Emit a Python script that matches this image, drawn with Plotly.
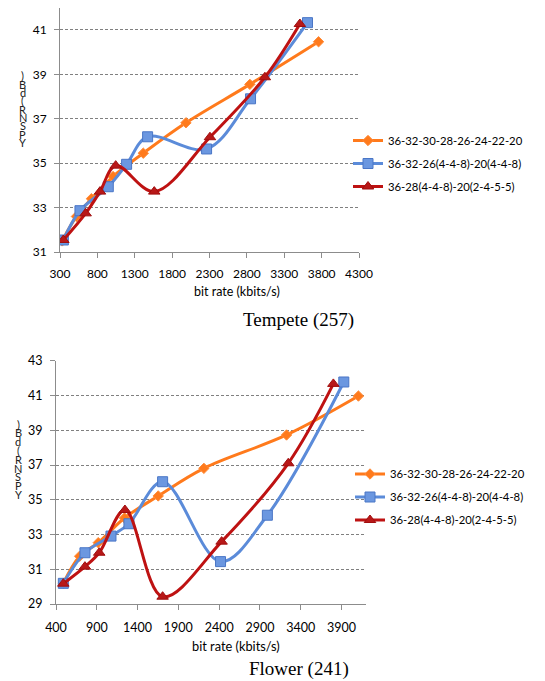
import plotly.graph_objects as go

# page body adds an 8px margin at the top-left; figure fills the rest of the window
OFF = 8
W, H = 545 - OFF, 681 - OFF

# ---------------- data: Tempete (257) ----------------
t_orange_x = [330, 520, 720, 1010, 1414, 1985, 2840, 3759]
t_orange_y = [31.5, 32.6, 33.4, 34.4, 35.45, 36.82, 38.55, 40.47]
t_blue_x = [345, 567, 946, 1191, 1472, 2261, 2849, 3611]
t_blue_y = [31.54, 32.86, 33.94, 34.95, 36.19, 35.64, 37.9, 41.33]
t_red_x = [345, 643, 835, 1045, 1561, 2306, 3041, 3509]
t_red_y = [31.54, 32.74, 33.72, 34.89, 33.72, 36.17, 38.87, 41.27]

# ---------------- data: Flower (241) ----------------
f_orange_x = [490, 690, 918, 1240, 1653, 2213, 3226, 4107]
f_orange_y = [30.2, 31.75, 32.53, 33.95, 35.22, 36.81, 38.73, 40.97]
f_blue_x = [490, 755, 1074, 1294, 1707, 2417, 2991, 3928]
f_blue_y = [30.19, 31.95, 32.91, 33.62, 36.04, 31.44, 34.11, 41.78]
f_red_x = [490, 755, 930, 1245, 1707, 2430, 3247, 3800]
f_red_y = [30.17, 31.15, 31.95, 34.41, 29.42, 32.59, 37.1, 41.67]

series_names = ["36-32-30-28-26-24-22-20",
                "36-32-26(4-4-8)-20(4-4-8)",
                "36-28(4-4-8)-20(2-4-5-5)"]
top_x_ticks = [300, 800, 1300, 1800, 2300, 2800, 3300, 3800, 4300]
bot_x_ticks = [400, 900, 1400, 1900, 2400, 2900, 3400, 3900]
ylabel_chars = [")", "B", "d", "(", "R", "N", "S", "P", "Y"]

ORANGE = "#FF7A1C"
BLUE = "#5B8BD9"
RED = "#BE1212"
FONT = "Lato"

styles = [
    dict(color=ORANGE, symbol="diamond", size=8, lc=ORANGE, mline="#FF8C3A"),
    dict(color="#6B97E0", symbol="square", size=10, lc=BLUE, mline="#4A76C6"),
    dict(color="#B81818", symbol="triangle-up", size=10, lc=RED, mline="#A00E0E"),
]

fig = go.Figure()

def add_series(xs, ys, idx, xa, ya, leg):
    s = styles[idx]
    fig.add_trace(go.Scatter(
        x=xs, y=ys, mode="lines+markers", name=series_names[idx],
        xaxis=xa, yaxis=ya, legend=leg, legendgroup=f"{leg}-{idx}",
        line=dict(color=s["lc"], width=3, shape="spline", smoothing=1.0),
        marker=dict(symbol=s["symbol"], size=s["size"], color=s["color"],
                    line=dict(color=s["mline"], width=1)),
    ))

add_series(t_orange_x, t_orange_y, 0, "x", "y", "legend")
add_series(t_blue_x, t_blue_y, 1, "x", "y", "legend")
add_series(t_red_x, t_red_y, 2, "x", "y", "legend")
add_series(f_orange_x, f_orange_y, 0, "x2", "y2", "legend2")
add_series(f_blue_x, f_blue_y, 1, "x2", "y2", "legend2")
add_series(f_red_x, f_red_y, 2, "x2", "y2", "legend2")

def px(x):
    return (x - OFF) / W

def py(y):
    return min(1.0, 1 - (y - OFF) / H)

axis_common = dict(showline=True, linecolor="#8C8C8C", linewidth=1,
                   ticks="outside", tickcolor="#8C8C8C", ticklen=5,
                   zeroline=False, automargin=False)

fig.update_layout(
    width=W, height=H,
    margin=dict(l=0, r=0, t=0, b=0, autoexpand=False),
    paper_bgcolor="white", plot_bgcolor="white",
    font=dict(family=FONT, color="#000000"),
    xaxis=dict(domain=[px(60), px(359)], range=[300, 4300],
               tickvals=top_x_ticks, showgrid=False, anchor="y",
               ticklabelstandoff=6,
               tickfont=dict(size=12), **axis_common),
    yaxis=dict(domain=[py(252), py(8)], range=[31, 41.99],
               tick0=31, dtick=2, showgrid=True, gridcolor="#808080",
               griddash="3px,2px", gridwidth=1, anchor="x",
               ticklabelstandoff=5,
               tickfont=dict(size=12), **axis_common),
    xaxis2=dict(domain=[px(56), px(366)], range=[400, 4200],
                tickvals=bot_x_ticks, showgrid=False, anchor="y2",
                ticklabelstandoff=7,
                tickfont=dict(size=12.5), **axis_common),
    yaxis2=dict(domain=[py(604), py(360.8)], range=[29, 43],
                tick0=29, dtick=2, showgrid=True, gridcolor="#808080",
                griddash="3px,2px", gridwidth=1, anchor="x2",
                ticklabelstandoff=5,
                tickfont=dict(size=12.5), **axis_common),
    legend=dict(x=px(348), y=py(163.5), xanchor="left", yanchor="middle",
                font=dict(size=11.3, family=FONT), tracegroupgap=4,
                bgcolor="rgba(0,0,0,0)", itemwidth=30),
    legend2=dict(x=px(350), y=py(497), xanchor="left", yanchor="middle",
                 font=dict(size=11.3, family=FONT), tracegroupgap=4,
                 bgcolor="rgba(0,0,0,0)", itemwidth=30),
    showlegend=True,
)

annotations = [
    dict(text="bit rate (kbits/s)", x=px(237), y=py(291), font=dict(size=12.5)),
    dict(text="bit rate (kbits/s)", x=px(236), y=py(646), font=dict(size=12.8)),
    dict(text="Tempete (257)", x=px(298), y=py(320),
         font=dict(size=19, family="Liberation Serif")),
    dict(text="Flower (241)", x=px(299), y=py(669),
         font=dict(size=19, family="Liberation Serif")),
]
for i, ch in enumerate(ylabel_chars):
    annotations.append(dict(text=ch, x=px(23), y=py(76 + i * 8.3),
                            font=dict(size=11, color="#222222")))
    annotations.append(dict(text=ch, x=px(18), y=py(424 + i * 8.8),
                            font=dict(size=11, color="#222222")))
for a in annotations:
    a.update(xref="paper", yref="paper", showarrow=False,
             xanchor="center", yanchor="middle")
fig.update_layout(annotations=annotations)

fig.write_html("out.html")
